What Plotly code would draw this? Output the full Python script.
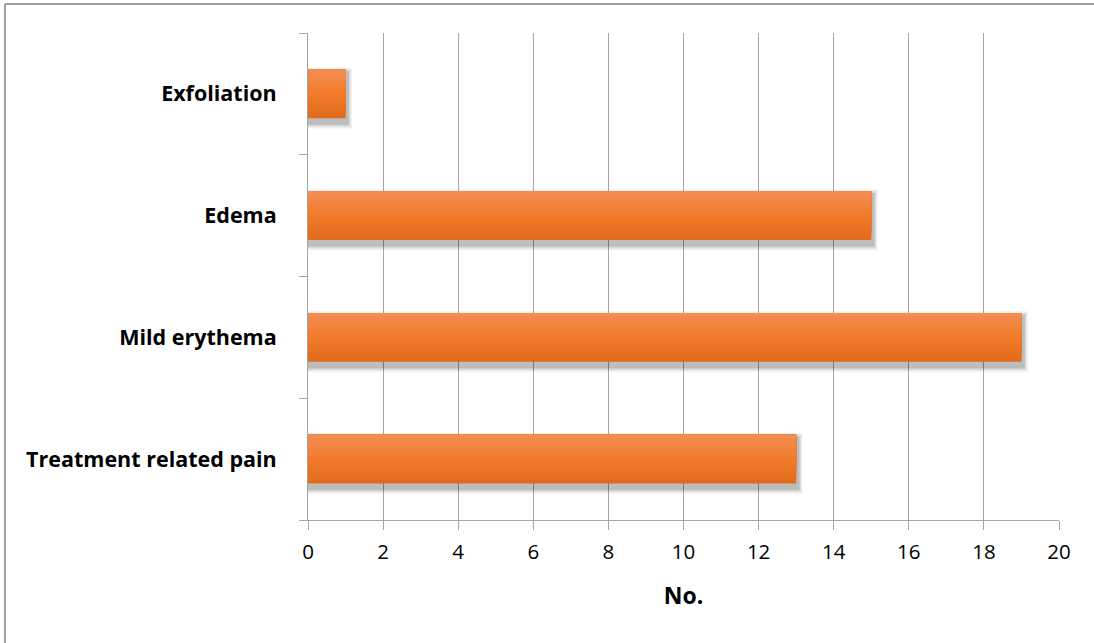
import plotly.graph_objects as go

# Adverse events, listed bottom to top
categories = ["Treatment related pain", "Mild erythema", "Edema", "Exfoliation"]
counts = [13, 19, 15, 1]
x_ticks = [0, 2, 4, 6, 8, 10, 12, 14, 16, 18, 20]

BAR_W = 0.40
N_SLICES = 16
LIGHT = (243, 142, 84)
MID = (241, 123, 43)
DARK = (226, 106, 28)

def mix(a, b, t):
    return tuple(round(a[k] + (b[k] - a[k]) * t) for k in range(3))

def slice_color(t):
    # t = 0 at bottom edge of the bar, 1 at top edge
    if t < 0.5:
        c = mix(DARK, MID, t / 0.5)
    else:
        c = mix(MID, LIGHT, (t - 0.5) / 0.5)
    return "rgb(%d,%d,%d)" % c

fig = go.Figure()

# soft drop shadow under each bar
for dx, grow, alpha in [(0.17, 0.10, 0.06), (0.13, 0.07, 0.09), (0.09, 0.04, 0.13)]:
    fig.add_trace(go.Bar(
        y=categories, x=[v + dx for v in counts], orientation="h",
        width=BAR_W + grow, offset=-(BAR_W + grow) / 2 - 0.035,
        marker=dict(color="rgba(0,0,0,%.2f)" % alpha, line=dict(width=0)),
        hoverinfo="skip", showlegend=False,
    ))

# bar body: overlapping layers, each starting a little higher, give a vertical gradient
sw = BAR_W / N_SLICES
for i in range(N_SLICES):
    t = (i + 0.5) / N_SLICES
    fig.add_trace(go.Bar(
        y=categories, x=counts, orientation="h",
        width=BAR_W - i * sw, offset=-BAR_W / 2 + i * sw,
        marker=dict(color=slice_color(t), line=dict(width=0)),
        hoverinfo="skip" if i else None, showlegend=False,
        name="No.",
    ))

W, H = 1094, 643
L, R, T, B = 308, 35, 33, 123
pw, ph = W - L - R, H - T - B

fig.update_layout(
    width=W, height=H,
    margin=dict(l=L, r=R, t=T, b=B, pad=0),
    barmode="overlay",
    bargap=0.6,
    paper_bgcolor="white", plot_bgcolor="white",
    font=dict(family="'Open Sans', 'Noto Sans', sans-serif", color="black"),
    xaxis=dict(
        range=[0, 20], tickvals=x_ticks, ticktext=[str(v) for v in x_ticks],
        showgrid=True, gridcolor="#A6A6A6", gridwidth=1,
        showline=True, linecolor="#A6A6A6", linewidth=1,
        ticks="outside", ticklen=9, tickcolor="#A6A6A6",
        tickfont=dict(size=20.5), ticklabelstandoff=4,
        zeroline=False,
        title=dict(text="<b>No.</b>", font=dict(size=23), standoff=24),
    ),
    yaxis=dict(
        categoryorder="array", categoryarray=categories,
        showgrid=False, showline=True, linecolor="#A6A6A6", linewidth=1,
        ticks="outside", ticklen=8, tickcolor="#A6A6A6", tickson="boundaries",
        tickfont=dict(size=21.5), ticklabelstandoff=26,
        tickvals=categories, ticktext=["<b>%s</b>" % c for c in categories],
    ),
    shapes=[
        # frame lines along the top and left of the chart area
        dict(type="line", xref="paper", yref="paper",
             x0=(5 - L) / pw, x1=(W - L) / pw, y0=1 + (T - 4) / ph, y1=1 + (T - 4) / ph,
             line=dict(color="#A0A0A0", width=2)),
        dict(type="line", xref="paper", yref="paper",
             x0=(5 - L) / pw, x1=(5 - L) / pw, y0=1 + (T - 4) / ph, y1=-(B) / ph,
             line=dict(color="#A0A0A0", width=2)),
    ],
)

fig.write_html("out.html")
